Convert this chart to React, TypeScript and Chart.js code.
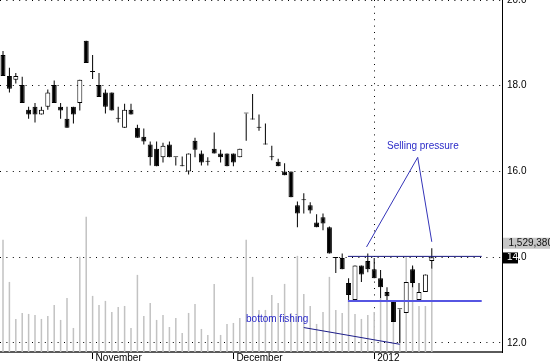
import React, { useEffect, useRef } from 'react';
import { Chart, registerables } from 'chart.js';

Chart.register(...registerables);

// ---- Data ----
const opens = [
  18.72, 18.23, 18.14, 18.02, 17.44, 17.51, 17.33, 17.51, 18.02, 17.51,
  17.23, 17.51, 17.60, 19.05, 18.32, 18.02, 17.84, 17.84, 17.23, 17.02,
  17.44, 17.02, 16.81, 16.63, 16.53, 16.33, 16.63, 16.33, 16.12, 16.00,
  16.72, 16.42, 16.23, 16.53, 16.42, 16.42, 16.42, 16.33, 17.35, 17.21,
  17.02, 16.63, 16.33, 16.23, 16.00, 16.00, 15.21, 15.33, 15.21, 14.81,
  14.93, 14.70, 13.98, 13.98, 13.40, 13.00, 13.81, 13.91, 13.72, 13.51,
  13.19, 13.00, 12.79, 12.70, 13.72, 13.00, 13.19, 13.91,
];
const highs = [
  18.81, 18.42, 18.30, 18.21, 17.51, 17.60, 17.51, 17.91, 18.12, 17.60,
  17.51, 17.51, 18.14, 19.05, 18.72, 18.30, 17.91, 17.84, 17.51, 17.58,
  17.58, 17.09, 17.00, 16.70, 16.70, 16.67, 16.70, 16.33, 16.35, 16.42,
  16.79, 16.49, 16.33, 16.91, 16.51, 16.42, 16.42, 16.53, 17.35, 17.81,
  17.33, 17.12, 16.60, 16.30, 16.19, 16.00, 15.30, 15.49, 15.28, 15.00,
  15.02, 14.72, 13.98, 14.09, 13.51, 13.81, 13.81, 14.09, 13.98, 13.70,
  13.30, 13.00, 12.79, 13.42, 13.81, 13.40, 13.60, 14.21,
];
const lows = [
  18.23, 17.84, 18.05, 17.60, 17.23, 17.14, 17.33, 17.44, 17.60, 17.23,
  17.02, 17.12, 17.42, 18.53, 18.16, 17.74, 17.35, 17.42, 17.14, 17.02,
  17.33, 16.79, 16.63, 16.14, 16.12, 16.21, 16.33, 16.14, 16.12, 15.93,
  16.33, 16.14, 16.14, 16.42, 16.21, 16.12, 16.12, 16.33, 16.72, 17.21,
  16.95, 16.63, 16.26, 16.12, 15.91, 15.40, 14.70, 15.02, 15.02, 14.70,
  14.63, 14.09, 13.63, 13.72, 13.00, 13.00, 13.42, 13.65, 13.51, 13.05,
  13.00, 12.49, 12.00, 12.70, 13.30, 13.00, 13.19, 13.74,
];
const closes = [
  18.23, 17.93, 18.23, 17.60, 17.33, 17.33, 17.44, 17.84, 17.60, 17.42,
  17.02, 17.33, 18.14, 18.53, 18.32, 17.74, 17.51, 17.42, 17.23, 17.44,
  17.33, 16.79, 16.70, 16.33, 16.12, 16.60, 16.33, 16.33, 16.12, 16.42,
  16.51, 16.21, 16.23, 16.42, 16.33, 16.12, 16.21, 16.53, 17.35, 17.21,
  17.02, 16.63, 16.33, 16.12, 15.91, 15.40, 15.02, 15.33, 15.09, 14.70,
  14.79, 14.09, 13.98, 13.72, 13.12, 13.81, 13.60, 13.72, 13.51, 13.30,
  13.09, 12.49, 12.79, 13.42, 13.40, 13.19, 13.60, 14.00,
];
const volumes = [
  2039000, 1274000, 601000, 710000, 692000, 674000, 601000, 655000, 856000, 583000,
  983000, 437000, 1730000, 2458000, 1020000, 856000, 929000, 728000, 819000, 837000,
  437000, 1402000, 655000, 892000, 583000, 674000, 455000, 619000, 346000, 710000,
  874000, 419000, 310000, 1238000, 310000, 510000, 528000, 619000, 2039000, 1366000,
  765000, 765000, 1038000, 892000, 1238000, 710000, 1748000, 1056000, 837000, 510000,
  728000, 1366000, 765000, 710000, 947000, 692000, 601000, 674000, 728000, 983000,
  947000, 546000, 765000, 1730000, 1548000, 837000, 837000, 1529380,
];

const monthTickIndex = [14, 36, 58];
const monthTickLabels = ['November', 'December', '2012'];
const yearBoundaryIndex = 58;
const priceTicks = [12, 14, 16, 18, 20];

// annotation lines (data coordinates: candle index, price)
const resistanceLine = [{ x: 53.9, y: 14.02 }, { x: 74.8, y: 14.02 }];
const supportLine = [{ x: 53.9, y: 12.98 }, { x: 74.8, y: 12.98 }];
const bottomFishingLine = [{ x: 47.0, y: 12.36 }, { x: 62.0, y: 11.97 }];
const sellingPressureLine = [{ x: 56.8, y: 14.24 }, { x: 64.8, y: 16.33 }, { x: 67.0, y: 14.36 }];

const noteTexts = ['Selling pressure', 'bottom fishing'];
const noteX = [60.0, 37.97];
const noteY = [16.58, 12.55];

const FONT = '"Liberation Sans", Arial, sans-serif';

const notesPlugin = {
  id: 'notes',
  afterDatasetsDraw(chart: any) {
    const { ctx, scales } = chart;
    ctx.save();
    ctx.font = `10px ${FONT}`;
    ctx.textBaseline = 'middle';
    ctx.textAlign = 'left';
    ctx.fillStyle = '#2b2bc8';
    noteTexts.forEach((t, i) => {
      ctx.fillText(t, scales.x.getPixelForValue(noteX[i]), scales.y.getPixelForValue(noteY[i]));
    });
    ctx.restore();
  },
};

const lastValuePlugin = {
  id: 'lastValue',
  afterDraw(chart: any) {
    const { ctx, chartArea, scales } = chart;
    const lastClose = closes[closes.length - 1];
    const lastVol = volumes[volumes.length - 1];
    const py = scales.y.getPixelForValue(lastClose);
    const x0 = chartArea.right + 1;
    const tx = chartArea.right + 5;
    ctx.save();
    ctx.font = `10px ${FONT}`;
    ctx.textBaseline = 'middle';
    ctx.textAlign = 'left';
    // volume label
    ctx.fillStyle = '#c6c6c6';
    ctx.fillRect(x0, py - 19.5, chart.width - x0, 11);
    ctx.fillStyle = '#111';
    ctx.fillText(lastVol.toLocaleString('en-US'), tx + 1.5, py - 13.8);
    // price label box
    ctx.fillStyle = '#000';
    ctx.fillRect(x0, py - 4.8, 15, 11);
    ctx.beginPath();
    ctx.rect(x0, py - 4.8, 15, 11);
    ctx.clip();
    ctx.fillStyle = '#fff';
    ctx.fillText(lastClose.toFixed(1), tx, py);
    ctx.restore();
  },
};

export default function App() {
  const ref = useRef<HTMLCanvasElement | null>(null);

  useEffect(() => {
    if (!ref.current) return;
    Chart.defaults.font.family = FONT;
    Chart.defaults.font.size = 10;
    Chart.defaults.color = '#000';

    const idx = closes.map((_, i) => i);
    const chart = new Chart(ref.current, {
      type: 'bar',
      data: {
        datasets: [
          {
            type: 'line',
            data: resistanceLine,
            borderColor: '#16167e',
            borderWidth: 1,
            pointRadius: 0,
            yAxisID: 'y',
            order: 0,
          } as any,
          {
            type: 'line',
            data: supportLine,
            borderColor: '#5656e2',
            borderWidth: 2,
            pointRadius: 0,
            yAxisID: 'y',
            order: 0,
          } as any,
          {
            type: 'line',
            data: bottomFishingLine,
            borderColor: '#1e1e8a',
            borderWidth: 1,
            pointRadius: 0,
            yAxisID: 'y',
            order: 0,
          } as any,
          {
            type: 'line',
            data: sellingPressureLine,
            borderColor: '#3434b8',
            borderWidth: 1,
            pointRadius: 0,
            yAxisID: 'y',
            order: 0,
          } as any,
          {
            // candle bodies
            data: idx.map((i) => ({ x: i, y: [opens[i], closes[i]] })),
            backgroundColor: idx.map((i) => (closes[i] > opens[i] ? '#ffffff' : '#000000')),
            borderColor: '#000',
            borderWidth: 1,
            borderSkipped: false,
            barThickness: 5,
            minBarLength: 1,
            grouped: false,
            inflateAmount: 0,
            yAxisID: 'y',
            order: 1,
          } as any,
          {
            // wicks
            data: idx.map((i) => ({ x: i, y: [lows[i], highs[i]] })),
            backgroundColor: '#000',
            borderWidth: 0,
            barThickness: 1,
            grouped: false,
            inflateAmount: 0,
            yAxisID: 'y',
            order: 2,
          } as any,
          {
            // volume
            data: idx.map((i) => ({ x: i, y: volumes[i] })),
            backgroundColor: '#c2c2c2',
            borderWidth: 0,
            barThickness: 1.5,
            grouped: false,
            inflateAmount: 0,
            yAxisID: 'yv',
            order: 3,
          } as any,
        ],
      },
      options: {
        animation: false,
        responsive: false,
        maintainAspectRatio: false,
        events: [],
        layout: { padding: 0 },
        plugins: {
          legend: { display: false },
          tooltip: { enabled: false },
        },
        scales: {
          x: {
            type: 'linear',
            position: 'bottom',
            min: -0.47,
            max: 77.97,
            offset: false,
            afterBuildTicks: (scale: any) => {
              scale.ticks = monthTickIndex.map((v) => ({ value: v }));
            },
            afterFit: (scale: any) => {
              scale.height = 12;
              scale.paddingLeft = 0;
              scale.paddingRight = 0;
            },
            ticks: {
              autoSkip: false,
              maxRotation: 0,
              minRotation: 0,
              align: 'start',
              labelOffset: 3,
              padding: -7,
              color: '#000',
              font: { size: 10, family: FONT },
              callback: (v: any) => {
                const k = monthTickIndex.indexOf(Number(v));
                return k >= 0 ? monthTickLabels[k] : '';
              },
            },
            grid: {
              offset: false,
              drawTicks: true,
              tickLength: 7,
              tickColor: '#000',
              tickWidth: 1,
              lineWidth: 1,
              color: (c: any) => (c.tick && c.tick.value === yearBoundaryIndex ? '#000' : 'rgba(0,0,0,0)'),
            },
            border: { display: true, color: '#5a5a5a', width: 2, dash: [1, 5.4] },
          } as any,
          y: {
            type: 'linear',
            position: 'right',
            min: 11.79,
            max: 20.0,
            afterBuildTicks: (scale: any) => {
              scale.ticks = priceTicks.map((v) => ({ value: v }));
            },
            afterFit: (scale: any) => {
              scale.width = 48;
              scale.paddingTop = 0;
              scale.paddingBottom = 0;
            },
            ticks: {
              padding: 5,
              color: '#000',
              font: { size: 10, family: FONT },
              callback: (v: any) => Number(v).toFixed(1),
            },
            grid: {
              drawTicks: false,
              color: '#000',
              lineWidth: 1,
            },
            border: { display: true, color: '#000', width: 1, dash: [1, 5.4] },
          } as any,
          yv: {
            type: 'linear',
            display: false,
            min: 0,
            max: 6400000,
          } as any,
        },
      } as any,
      plugins: [notesPlugin, lastValuePlugin],
    });

    return () => chart.destroy();
  }, []);

  return (
    <div style={{ position: 'absolute', left: 0, top: 0, width: 550, height: 364, background: '#fff' }}>
      <canvas ref={ref} width={550} height={364} style={{ display: 'block' }} />
    </div>
  );
}
